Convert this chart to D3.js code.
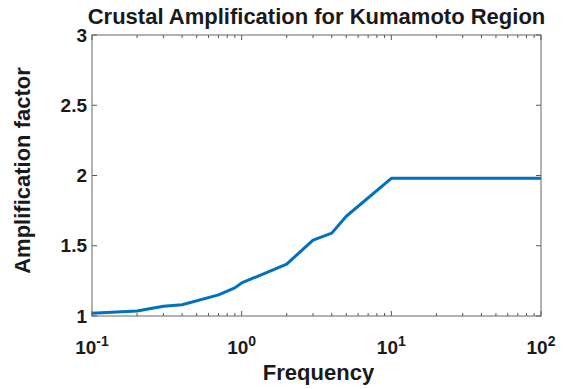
<!DOCTYPE html>
<html>
<head>
	<title></title>
	<script src="https://d3js.org/d3.v7.min.js"></script>
	<style>
		body { margin: 0; background: #fff; }
		text { font-family: "Liberation Sans", Arial, sans-serif; font-weight: bold; fill: #1a1a1a; }
	</style>
</head>
<body>
	<div id="chart"></div>
	<script type="text/javascript">
		// data
		var frequency = [0.1, 0.2, 0.3, 0.4, 0.7, 0.9, 1, 2, 3, 4, 5, 10, 100];
		var amplification = [1.02, 1.035, 1.07, 1.08, 1.15, 1.2, 1.235, 1.37, 1.54, 1.59, 1.71, 1.98, 1.98];
		var xTicks = [0.1, 1, 10, 100];
		var xTickExp = ['-1', '0', '1', '2'];
		var yTicks = [1, 1.5, 2, 2.5, 3];

		var W = 567, H = 389;
		var margin = { top: 35, right: 26, bottom: 73, left: 92 };
		var width = W - margin.left - margin.right;
		var height = H - margin.top - margin.bottom;

		var svg = d3.select('#chart').append('svg')
			.attr('width', W)
			.attr('height', H);

		var g = svg.append('g')
			.attr('transform', 'translate(' + margin.left + ',' + margin.top + ')');

		var x = d3.scaleLog().domain([0.1, 100]).range([0, width]);
		var y = d3.scaleLinear().domain([1, 3]).range([height, 0]);

		// minor log ticks
		var minor = [];
		for (var e = -1; e < 2; e++) {
			for (var k = 2; k < 10; k++) minor.push(k * Math.pow(10, e));
		}

		var tickCol = '#555';

		// bottom and top ticks (inside)
		[height, 0].forEach(function(yy, side) {
			var dir = side === 0 ? -1 : 1;
			g.selectAll(null).data(minor).enter().append('line')
				.attr('x1', d => x(d)).attr('x2', d => x(d))
				.attr('y1', yy).attr('y2', yy + dir * 3)
				.style('stroke', tickCol).style('stroke-width', 1);
			g.selectAll(null).data(xTicks).enter().append('line')
				.attr('x1', d => x(d)).attr('x2', d => x(d))
				.attr('y1', yy).attr('y2', yy + dir * 5)
				.style('stroke', tickCol).style('stroke-width', 1);
		});

		// left and right ticks (inside)
		[0, width].forEach(function(xx, side) {
			var dir = side === 0 ? 1 : -1;
			g.selectAll(null).data(yTicks).enter().append('line')
				.attr('x1', xx).attr('x2', xx + dir * 5)
				.attr('y1', d => y(d)).attr('y2', d => y(d))
				.style('stroke', tickCol).style('stroke-width', 1);
		});

		// line
		var line = d3.line()
			.x((d, i) => x(frequency[i]))
			.y(d => y(d));

		g.append('path')
			.datum(amplification)
			.attr('d', line)
			.style('fill', 'none')
			.style('stroke', '#0072BD')
			.style('stroke-width', 3)
			.style('stroke-linejoin', 'round');

		// box
		g.append('rect')
			.attr('x', 0).attr('y', 0)
			.attr('width', width).attr('height', height)
			.style('fill', 'none')
			.style('stroke', '#666')
			.style('stroke-width', 1);

		// x tick labels 10^n
		var xl = g.selectAll('.xlab').data(xTicks).enter().append('text')
			.attr('class', 'xlab')
			.attr('x', d => x(d))
			.attr('y', height + 38)
			.attr('text-anchor', 'middle')
			.style('font-size', '19px');
		xl.append('tspan').text('10');
		xl.append('tspan')
			.attr('dy', -8)
			.style('font-size', '14px')
			.text((d, i) => xTickExp[i]);

		// y tick labels
		g.selectAll('.ylab').data(yTicks).enter().append('text')
			.attr('class', 'ylab')
			.attr('x', -5)
			.attr('y', d => y(d))
			.attr('dy', '0.35em')
			.attr('text-anchor', 'end')
			.style('font-size', '19px')
			.text(d => d);

		// title
		svg.append('text')
			.attr('x', margin.left + width / 2)
			.attr('y', 24)
			.attr('text-anchor', 'middle')
			.style('font-size', '22px')
			.text('Crustal Amplification for Kumamoto Region');

		// axis labels
		svg.append('text')
			.attr('x', margin.left + width / 2 + 2)
			.attr('y', 380)
			.attr('text-anchor', 'middle')
			.style('font-size', '22px')
			.text('Frequency');

		svg.append('text')
			.attr('transform', 'translate(30,' + (margin.top + height / 2 - 5) + ') rotate(-90)')
			.attr('text-anchor', 'middle')
			.style('font-size', '22px')
			.text('Amplification factor');
	</script>
</body>
</html>
